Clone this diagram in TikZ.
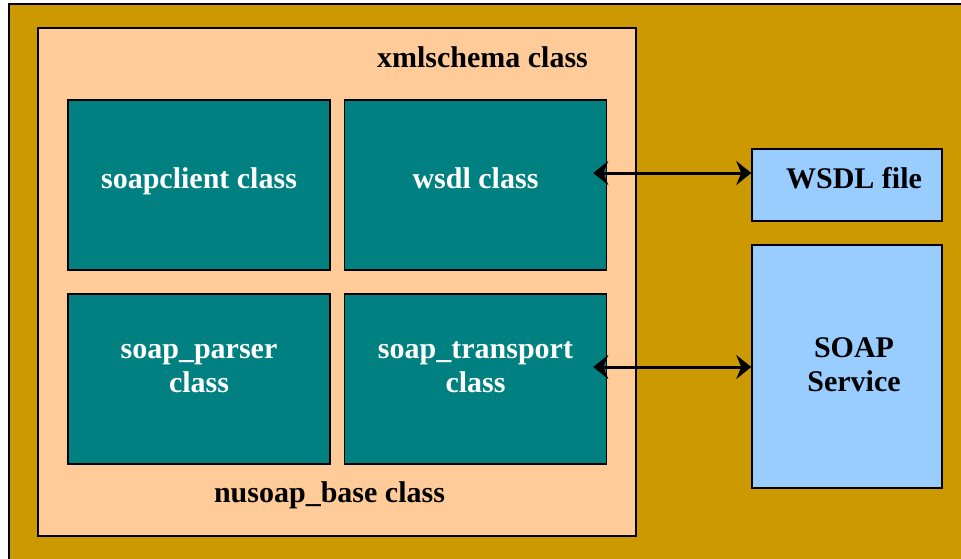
\documentclass[tikz,border=0pt]{standalone}
\usepackage{fontspec}
\setmainfont{Liberation Serif}
\usetikzlibrary{arrows.meta}
\definecolor{gold}{HTML}{CC9900}
\definecolor{peach}{HTML}{FFCC99}
\definecolor{tealbox}{HTML}{008080}
\definecolor{skyblue}{HTML}{99CCFF}
\begin{document}
\begin{tikzpicture}[x=1pt,y=-1pt,
    every node/.style={font=\fontsize{30}{34}\selectfont\bfseries,
        text height=20pt,text depth=6pt,align=center},
    cls/.style={draw,line width=1.5pt,fill=tealbox,minimum width=262pt,
        minimum height=170pt,inner sep=0pt},
    txt/.style={text=white},
    ext/.style={draw,line width=1.5pt,fill=skyblue,minimum width=190pt,
        inner sep=0pt},
    link/.style={line width=3pt,{Stealth[length=15pt,width=24pt,inset=5pt]}-{Stealth[length=15pt,width=24pt,inset=5pt]}}]
  \clip (0,0) rectangle (961,558);
  \fill[white] (0,0) rectangle (961,558);
  \draw[line width=1.5pt,fill=gold] (9,4) rectangle (990,590);
  \node[draw,line width=1.5pt,fill=peach,minimum width=598pt,minimum height=508pt,
        inner sep=0pt] (schema) at (337,282) {};
  \node (schemalbl) at (482.5,60) {xmlschema class};
  \node (baselbl) at (329.5,495) {nusoap\_base class};
  % class boxes
  \node[cls, label={[txt,yshift=4pt]center:soapclient class}] (client) at (199,185) {};
  \node[cls, label={[txt,yshift=4pt]center:wsdl class}] (wsdl) at (475.5,185) {};
  \node[cls, label={[txt,yshift=-6pt]center:soap\_parser\\class}] (parser) at (199,379) {};
  \node[cls, label={[txt,yshift=-6pt]center:soap\_transport\\class}] (trans) at (475.5,379) {};
  % outside
  \node[ext, minimum height=72pt, label={[xshift=7pt,yshift=4pt]center:WSDL file}] (file) at (847,185) {};
  \node[ext, minimum height=243pt, label={[xshift=7pt,yshift=-18pt]center:SOAP\\Service}] (service) at (847,366.5) {};
  \draw[link] ([shift={(-14pt,12pt)}]wsdl.east) -- ([yshift=12pt]file.west);
  \draw[link] ([shift={(-14pt,12pt)}]trans.east) -- ([yshift=12pt]trans.east -| service.west);
\end{tikzpicture}
\end{document}
